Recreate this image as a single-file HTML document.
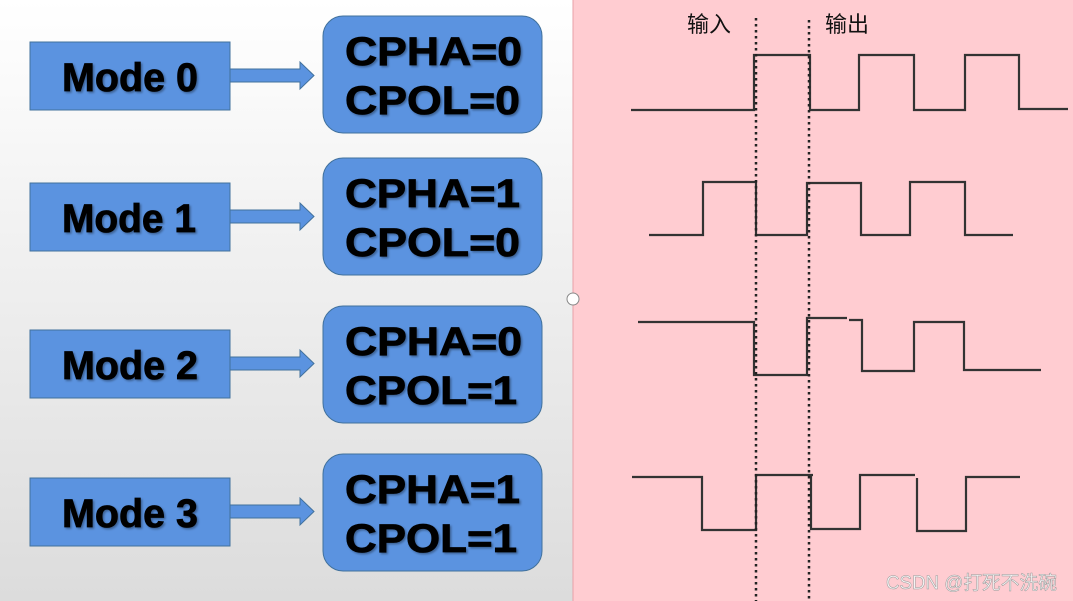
<!DOCTYPE html>
<html><head><meta charset="utf-8"><style>
html,body{margin:0;padding:0;width:1073px;height:601px;overflow:hidden}
</style></head><body>
<svg width="1073" height="601" viewBox="0 0 1073 601" xmlns="http://www.w3.org/2000/svg">
<defs>
<linearGradient id="bg" x1="0" y1="0" x2="0" y2="1">
<stop offset="0" stop-color="#ffffff"/><stop offset="1" stop-color="#dcdcdc"/>
</linearGradient>
<filter id="sh" x="-10%" y="-10%" width="130%" height="130%">
<feDropShadow dx="1.5" dy="1.5" stdDeviation="1" flood-color="#000" flood-opacity="0.35"/>
</filter>
</defs>
<rect x="0" y="0" width="573" height="601" fill="url(#bg)"/>
<rect x="573" y="0" width="500" height="601" fill="#ffccd1"/>
<line x1="573" y1="0" x2="573" y2="601" stroke="#e8a0a8" stroke-width="1"/>
<circle cx="573" cy="299" r="6" fill="#fff" stroke="#888" stroke-width="1"/>

<g font-family="Liberation Sans, Arial, sans-serif" font-weight="bold" fill="#000" stroke="#000" stroke-width="0.8">
<g>
<rect x="30" y="42" width="200" height="68" fill="#5b93e0" stroke="#41719c" stroke-width="1"/>
<text x="62" y="91" font-size="40" textLength="136" lengthAdjust="spacingAndGlyphs" filter="url(#sh)">Mode 0</text>
<path d="M230 69 H300 V62 L314 75.5 L300 89 V82 H230 Z" fill="#5b93e0" stroke="#41719c" stroke-width="1"/>
<rect x="323" y="16" width="219" height="117" rx="20" fill="#5b93e0" stroke="#41719c" stroke-width="1"/>
<text x="345" y="65" font-size="40" textLength="177" lengthAdjust="spacingAndGlyphs" filter="url(#sh)">CPHA=0</text>
<text x="345" y="114" font-size="40" textLength="175" lengthAdjust="spacingAndGlyphs" filter="url(#sh)">CPOL=0</text>
</g>
<g transform="translate(0,141)">
<rect x="30" y="42" width="200" height="68" fill="#5b93e0" stroke="#41719c" stroke-width="1"/>
<text x="62" y="91" font-size="40" textLength="134" lengthAdjust="spacingAndGlyphs" filter="url(#sh)">Mode 1</text>
<path d="M230 69 H300 V62 L314 75.5 L300 89 V82 H230 Z" fill="#5b93e0" stroke="#41719c" stroke-width="1"/>
<rect x="323" y="17" width="219" height="117" rx="20" fill="#5b93e0" stroke="#41719c" stroke-width="1"/>
<text x="345" y="66" font-size="40" textLength="175" lengthAdjust="spacingAndGlyphs" filter="url(#sh)">CPHA=1</text>
<text x="345" y="115" font-size="40" textLength="175" lengthAdjust="spacingAndGlyphs" filter="url(#sh)">CPOL=0</text>
</g>
<g transform="translate(0,289)">
<rect x="30" y="41" width="200" height="68" fill="#5b93e0" stroke="#41719c" stroke-width="1"/>
<text x="62" y="90" font-size="40" textLength="136" lengthAdjust="spacingAndGlyphs" filter="url(#sh)">Mode 2</text>
<path d="M230 68 H300 V61 L314 74.5 L300 88 V81 H230 Z" fill="#5b93e0" stroke="#41719c" stroke-width="1"/>
<rect x="323" y="17" width="219" height="117" rx="20" fill="#5b93e0" stroke="#41719c" stroke-width="1"/>
<text x="345" y="66" font-size="40" textLength="177" lengthAdjust="spacingAndGlyphs" filter="url(#sh)">CPHA=0</text>
<text x="345" y="115" font-size="40" textLength="172" lengthAdjust="spacingAndGlyphs" filter="url(#sh)">CPOL=1</text>
</g>
<g transform="translate(0,437)">
<rect x="30" y="41" width="200" height="68" fill="#5b93e0" stroke="#41719c" stroke-width="1"/>
<text x="62" y="90" font-size="40" textLength="136" lengthAdjust="spacingAndGlyphs" filter="url(#sh)">Mode 3</text>
<path d="M230 68 H300 V61 L314 74.5 L300 88 V81 H230 Z" fill="#5b93e0" stroke="#41719c" stroke-width="1"/>
<rect x="323" y="17" width="219" height="117" rx="20" fill="#5b93e0" stroke="#41719c" stroke-width="1"/>
<text x="345" y="66" font-size="40" textLength="175" lengthAdjust="spacingAndGlyphs" filter="url(#sh)">CPHA=1</text>
<text x="345" y="115" font-size="40" textLength="172" lengthAdjust="spacingAndGlyphs" filter="url(#sh)">CPOL=1</text>
</g>
</g>

<g fill="none" stroke="#333" stroke-width="2.2">
<polyline points="631,110 754,110 754,55 810,55 810,110 859,110 859,55 914,55 914,110 965,110 965,55 1019,55 1019,109 1068,109"/>
<polyline points="649,235 703,235 703,182 756,182 756,235 807,235 807,183 861,183 861,235 910,235 910,182 965,182 965,235 1013,235"/>
<polyline points="638,322 754,322 754,375 807,375 807,318 847,318"/>
<polyline points="849,320 862,320 862,371 914,371 914,322 964,322 964,370 1041,370"/>
<polyline points="632,477 702,477 702,530 756,530 756,475 813,475"/>
<polyline points="811,475 811,529 860,529 860,475 915,475"/>
<polyline points="917,478 917,531 966,531 966,477 1020,477"/>
</g>
<g stroke="#222" stroke-width="2.5" stroke-dasharray="2.5,3.5">
<line x1="756" y1="18" x2="756" y2="601"/>
<line x1="809" y1="20" x2="809" y2="601"/>
</g>
<g font-family="Liberation Sans, 'Noto Sans CJK SC', sans-serif" font-size="22" fill="#111">
<text x="687" y="32" textLength="44" lengthAdjust="spacingAndGlyphs">输入</text>
<text x="825" y="32" textLength="44" lengthAdjust="spacingAndGlyphs">输出</text>
</g>
<text x="886" y="589" font-family="Liberation Sans, 'Noto Sans CJK SC', sans-serif" font-size="19" textLength="171" lengthAdjust="spacingAndGlyphs" fill="#f4f4f4" stroke="#999" stroke-width="0.5">CSDN @打死不洗碗</text>
</svg>
</body></html>
